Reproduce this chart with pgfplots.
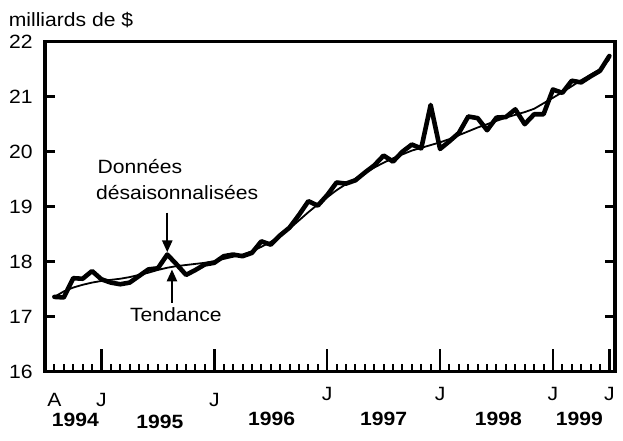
\documentclass[border=0pt]{standalone}
\usepackage{pgfplots}
\pgfplotsset{compat=1.18}
\usepackage{fontspec}
\setmainfont{Liberation Sans}[FakeStretch=1.1]
\usetikzlibrary{arrows.meta}

\pgfplotsset{
  common/.style={
    scale only axis,
    width=285pt, height=165pt,
    xmin=-6, xmax=54.6, ymin=16, ymax=22,
    axis line style={line width=1.6pt, black},
    tick align=inside,
    tick style={black, line width=1.3pt},
    minor tick style={black, line width=1pt},
  },
}

\begin{document}
\fontsize{9.6}{11}\selectfont
\begin{tikzpicture}
% y ticks and labels
\begin{axis}[
  common,
  xtick=\empty,
  ytick={16,17,...,22},
  ytick pos=both,
  major tick length=5pt,
  tick style={black, line width=1.4pt},
  /pgf/number format/assume math mode=true,
  yticklabel style={anchor=east, inner sep=0pt, xshift=-6pt},
]
\end{axis}
% x ticks, data, annotations
\begin{axis}[
  common,
  xtick pos=left,
  ytick=\empty,
  xtick={0,12,24,36,48,54},
  xticklabels={},
  minor xtick={-5,...,53},
  major tick length=11.2pt,
  minor tick length=3.8pt,
  clip=false,
]
% Trend
\addplot[black, line width=0.9pt, line join=round] coordinates {
(-5,17.36) (-4,17.46) (-3,17.53) (-2,17.58) (-1,17.62) (0,17.65) (1,17.67) (2,17.69)
(3,17.72) (4,17.76) (5,17.80) (6,17.85) (7,17.89) (8,17.92) (9,17.94) (10,17.96)
(11,17.98) (12,18.01) (13,18.05) (14,18.09) (15,18.13) (16,18.19) (17,18.27) (18,18.36)
(19,18.47) (20,18.60) (21,18.75) (22,18.90) (23,19.04) (24,19.17) (25,19.30) (26,19.41)
(27,19.51) (28,19.61) (29,19.71) (30,19.80) (31,19.88) (32,19.95) (33,20.02) (34,20.07)
(35,20.12) (36,20.17) (37,20.23) (38,20.30) (39,20.37) (40,20.44) (41,20.50) (42,20.56)
(43,20.62) (44,20.67) (45,20.72) (46,20.78) (47,20.88) (48,20.98) (49,21.08) (50,21.19)
(51,21.30) (52,21.40) (53,21.50) (54,21.68)
};
% Seasonally adjusted data
\addplot[black, line width=2.3pt, line join=round, line cap=round] coordinates {
(-5,17.36) (-4,17.35) (-3,17.70) (-2,17.69) (-1,17.83) (0,17.68) (1,17.62) (2,17.59)
(3,17.62) (4,17.74) (5,17.86) (6,17.88) (7,18.13) (8,17.95) (9,17.76) (10,17.85)
(11,17.95) (12,17.98) (13,18.10) (14,18.13) (15,18.10) (16,18.16) (17,18.37) (18,18.31)
(19,18.48) (20,18.62) (21,18.85) (22,19.10) (23,19.02) (24,19.21) (25,19.44) (26,19.42)
(27,19.48) (28,19.62) (29,19.75) (30,19.93) (31,19.82) (32,20.00) (33,20.13) (34,20.06)
(35,20.85) (36,20.05) (37,20.19) (38,20.34) (39,20.64) (40,20.61) (41,20.39) (42,20.62)
(43,20.63) (44,20.77) (45,20.50) (46,20.68) (47,20.68) (48,21.13) (49,21.07) (50,21.29)
(51,21.26) (52,21.37) (53,21.47) (54,21.74)
};
% month labels
\node[anchor=north, inner sep=0pt, yshift=-10.6pt] at (axis cs:-5,16) {A};
\node[anchor=north, inner sep=0pt, yshift=-10.6pt] at (axis cs:0,16) {J};
\node[anchor=north, inner sep=0pt, yshift=-10.6pt] at (axis cs:12,16) {J};
\node[anchor=north, inner sep=0pt, yshift=-7.6pt] at (axis cs:24,16) {J};
\node[anchor=north, inner sep=0pt, yshift=-7.6pt] at (axis cs:36,16) {J};
\node[anchor=north, inner sep=0pt, yshift=-7.6pt] at (axis cs:48,16) {J};
\node[anchor=north, inner sep=0pt, yshift=-7.6pt] at (axis cs:54,16) {J};
% year labels
\node[anchor=base, inner sep=0pt, yshift=-27.3pt, font=\bfseries] at (axis cs:-2.76,16) {1994};
\node[anchor=base, inner sep=0pt, yshift=-28.2pt, font=\bfseries] at (axis cs:6.21,16) {1995};
\node[anchor=base, inner sep=0pt, yshift=-26.7pt, font=\bfseries] at (axis cs:18.1,16) {1996};
\node[anchor=base, inner sep=0pt, yshift=-26.7pt, font=\bfseries] at (axis cs:30.0,16) {1997};
\node[anchor=base, inner sep=0pt, yshift=-26.7pt, font=\bfseries] at (axis cs:42.2,16) {1998};
\node[anchor=base, inner sep=0pt, yshift=-26.7pt, font=\bfseries] at (axis cs:50.8,16) {1999};
% title
\node[anchor=base west, inner sep=0pt, xshift=-18.3pt, yshift=7.6pt] at (rel axis cs:0,1) {milliards de \$};
% annotations
\node[anchor=base west, inner sep=0pt] at (axis cs:-0.45,19.607) {Données};
\node[anchor=base west, inner sep=0pt] at (axis cs:-0.6,19.135) {désaisonnalisées};
\draw[line width=1.2pt, -{Triangle[width=5pt,length=6pt]}] (axis cs:7.0,18.89) -- (axis cs:7.0,18.17);
\draw[line width=1.2pt, -{Triangle[width=5pt,length=6pt]}] (axis cs:7.5,17.25) -- (axis cs:7.5,17.86);
\node[anchor=base west, inner sep=0pt] at (axis cs:3.0,16.91) {Tendance};
\end{axis}
\path ([xshift=-22.5pt,yshift=-34.65pt]current axis.south west) rectangle ([xshift=4pt,yshift=20.85pt]current axis.north east);
\end{tikzpicture}
\end{document}
